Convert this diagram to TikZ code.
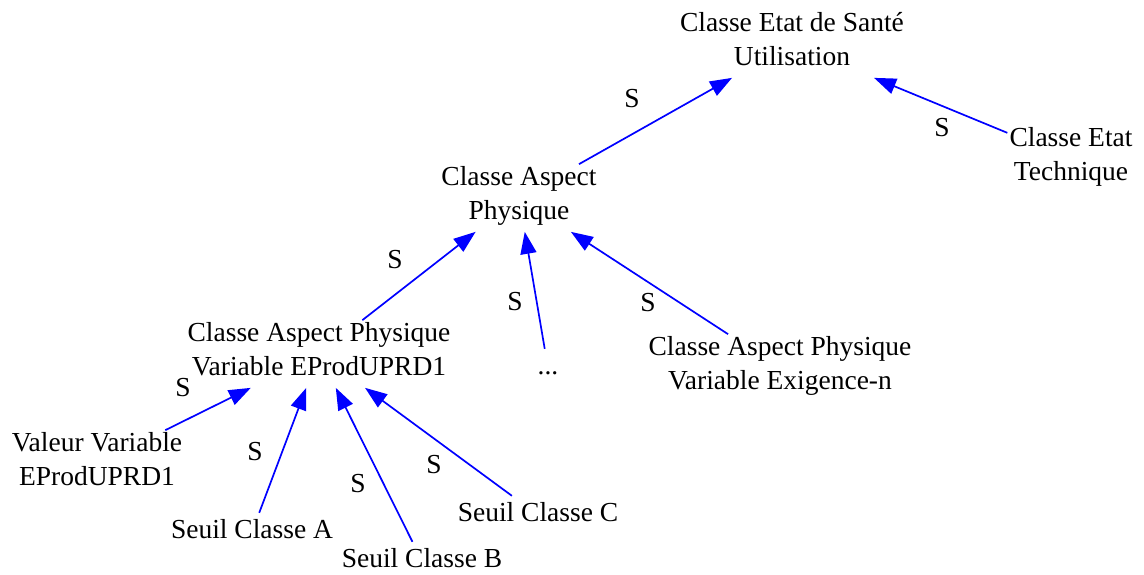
\documentclass[tikz,border=0pt]{standalone}
\usepackage{fontspec}
\setmainfont{Liberation Serif}
\usetikzlibrary{arrows.meta, positioning}

\begin{document}
\begin{tikzpicture}[
    x=1pt, y=-1pt,
    cls/.style={rectangle, inner sep=2pt, align=center, font=\fontsize{27.5}{34}\selectfont,
        execute at begin node=\strut, execute at end node=\strut},
    lbl/.style={inner sep=0pt, font=\fontsize{27.5}{34}\selectfont},
    spec/.style={-{Triangle[length=22pt, width=16pt]}, blue, line width=1.7pt},
]
\useasboundingbox (0,0) rectangle (1144,574);
% Classes
\node[cls] (sante) at (792,44) {Classe Etat de Santé\\Utilisation};
\node[cls] (tech) at (1071,159) {Classe Etat\\Technique};
\node[cls] (aspect) at (519,198) {Classe Aspect\\Physique};
\node[cls] (eprod) at (319,354) {Classe Aspect Physique\\Variable EProdUPRD1};
\node[cls] (dots) at (548,368) {...};
\node[cls] (exig) at (780,368) {Classe Aspect Physique\\Variable Exigence-n};
\node[cls] (valeur) at (97,464) {Valeur Variable\\EProdUPRD1};
\node[cls] (seuilA) at (252,532) {Seuil Classe A};
\node[cls] (seuilB) at (422,561) {Seuil Classe B};
\node[cls] (seuilC) at (538,515) {Seuil Classe C};

% Specialisations
\draw[spec] (aspect) -- (sante);
\draw[spec] (tech) -- (sante);
\draw[spec] (eprod) -- (aspect);
\draw[spec] (dots) -- (aspect);
\draw[spec] (exig) -- (aspect);
\draw[spec] (valeur) -- (eprod);
\draw[spec] (seuilA) -- (eprod);
\draw[spec] (seuilB) -- (eprod);
\draw[spec] (seuilC) -- (eprod);

% Labels
\node[lbl] (s1) at (632,99) {S};
\node[lbl] (s2) at (942,128) {S};
\node[lbl] (s3) at (395,260) {S};
\node[lbl] (s4) at (515,302) {S};
\node[lbl] (s5) at (648,303) {S};
\node[lbl] (s6) at (183,388) {S};
\node[lbl] (s7) at (255,452) {S};
\node[lbl] (s8) at (358,484) {S};
\node[lbl] (s9) at (434,465) {S};
\end{tikzpicture}
\end{document}
